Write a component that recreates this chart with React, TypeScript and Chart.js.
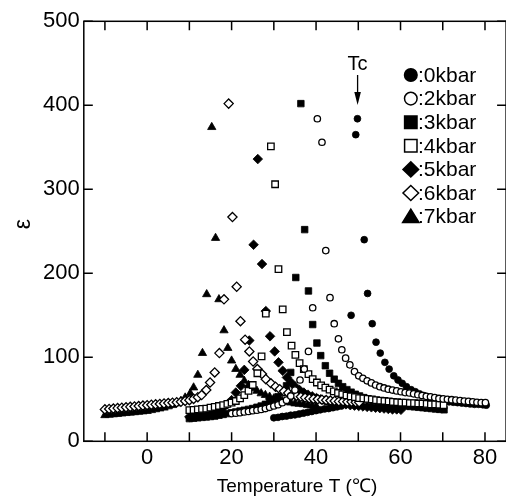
import React, { useEffect, useRef } from 'react';
import { Chart, registerables } from 'chart.js';

Chart.register(...registerables);

// [temperature (℃), ε]
const kbar0: [number, number][] = [
  [30, 28], [31, 28.5], [32, 29.5], [33, 30], [34, 31], [35, 31.5], [36, 32.5], [37, 33.5], [38, 34.5], [39, 35.5],
  [40, 36.5], [41, 37.5], [42, 38.5], [43, 39], [44, 40], [45, 41], [46, 42], [47, 44], [48.3, 150], [49.4, 365],
  [49.8, 384], [51.4, 240], [52.2, 176], [53.3, 140], [54.2, 118], [55.2, 105], [56.3, 94], [57.3, 86], [58.4, 78],
  [59.4, 73], [60.4, 69], [61.4, 65], [62.5, 61.5], [63.5, 59], [64.5, 56.5], [65.5, 54.5], [66.5, 53], [67.5, 51],
  [68.5, 49.5], [69.5, 48], [70.5, 47.5], [71.5, 47], [72.5, 46.5], [73.5, 46], [74.5, 45.5], [75.5, 45], [76.5, 44.5],
  [77.5, 44], [78.5, 44], [79.5, 43.5], [80.3, 43],
];
const kbar2: [number, number][] = [
  [20, 33], [21, 33.5], [22, 34], [23, 35], [24, 35.5], [25, 36.5], [26, 37], [27, 38], [28, 39], [29, 40.5],
  [30, 42], [31, 43.5], [32, 46], [33, 49], [34, 54], [35, 61], [36.2, 73], [37.2, 86], [38.2, 107], [39.2, 159],
  [40.3, 384], [41.4, 356], [42.3, 227], [43.3, 171], [44.3, 140], [45.3, 122], [46.1, 109], [47, 99], [48, 91],
  [49.1, 83], [50.1, 78], [51.1, 75], [52.1, 72], [53.1, 69.5], [54.1, 67], [55.1, 65], [56.1, 63.5], [57.1, 62],
  [58.1, 61], [59.1, 60], [60.1, 59], [61.1, 58], [62.1, 57.5], [63.1, 56.5], [64.1, 55.5], [65.1, 54.5], [66.1, 53.5],
  [67.1, 53], [68.1, 52], [69.1, 51], [70.1, 50.5], [71.1, 50], [72.1, 49.5], [73.1, 49], [74.1, 48.5], [75.1, 48],
  [76.1, 47.5], [77.1, 47], [78.1, 46.5], [79.1, 46], [80.1, 46],
];
const kbar3: [number, number][] = [
  [10, 27], [11, 27.5], [12, 28], [13, 28.5], [14, 29], [15, 29.5], [16, 30], [17, 31], [18, 32], [19, 33],
  [20, 34], [21, 35], [22, 36], [23, 37], [24, 38], [25, 39], [26, 40.5], [27, 42], [28, 44], [29, 46.5],
  [30, 49.5], [31, 53], [32, 58], [33, 66], [34, 82], [35.2, 195], [36.4, 402], [37.3, 252], [38.2, 179], [39.2, 139],
  [40.2, 117], [41.1, 102], [42.2, 90], [43.2, 81], [44.3, 74], [45.3, 69], [46.3, 65], [47.3, 61.5], [48.3, 58.5],
  [49.3, 56], [50.3, 54], [51.3, 52], [52.3, 50.5], [53.3, 49], [54.3, 48], [55.3, 47], [56.3, 46], [57.3, 45],
  [58.3, 44], [59.3, 43.5], [60.3, 43], [61.3, 42], [62.3, 41.5], [63.3, 41], [64.3, 40.5], [65.3, 40], [66.3, 39.5],
  [67.3, 39], [68.3, 38.5], [69.3, 38], [70.3, 37.5],
];
const kbar4: [number, number][] = [
  [10, 37], [11, 37.5], [12, 38], [13, 38.5], [14, 39], [15, 40], [16, 41], [17, 42], [18, 43], [19, 44.5],
  [20, 46], [21, 48], [22, 51], [23, 55], [24, 60], [25, 67], [26.1, 81], [27.1, 101], [28.1, 152], [29.3, 351],
  [30.3, 306], [31.1, 205], [32.1, 157], [33.1, 130], [34.2, 114], [35.1, 103], [36.1, 93], [37.1, 86], [38.2, 80],
  [39.2, 74], [40.2, 70], [41.2, 66.5], [42.2, 64], [43.2, 61.5], [44.2, 59.5], [45.2, 57.5], [46.2, 56], [47.2, 54.5],
  [48.2, 53.5], [49.2, 52.5], [50.2, 51.5], [51.2, 51], [52.2, 50.5], [53.2, 50], [54.2, 49], [55.2, 48.5], [56.2, 48],
  [57.2, 47.5], [58.2, 47], [59.2, 46.5], [60.2, 46], [61.2, 46], [62.2, 45.5], [63.2, 45.5], [64.2, 45], [65.2, 45],
  [66.2, 44.5], [67.2, 44], [68.2, 44], [69.2, 43.5], [70.2, 43],
];
const kbar5: [number, number][] = [
  [10, 29], [11, 29.5], [12, 30], [13, 31], [14, 32], [15, 33.5], [16, 35], [17, 37], [18, 40], [19, 44],
  [20, 49], [21, 58], [22.2, 66], [23, 85], [24.2, 120], [25.2, 234], [26.2, 336], [27.2, 211], [28.1, 155], [29.1, 125],
  [30.2, 107], [31.1, 94], [32.1, 84], [33.1, 76], [34.1, 70], [35.1, 65], [36.1, 61], [37.1, 58], [38.1, 55.5],
  [39.1, 53.5], [40.1, 51.5], [41.1, 50], [42.1, 48.5], [43.1, 47.5], [44.1, 46.5], [45.1, 45.5], [46.1, 44.5],
  [47.1, 44], [48.1, 43], [49.1, 42.5], [50.1, 42], [51.1, 41.5], [52.1, 41], [53.1, 40.5], [54.1, 40], [55.1, 39.5],
  [56.1, 39], [57.1, 38.5], [58.1, 38], [59.1, 38], [60.1, 37.5],
];
const kbar6: [number, number][] = [
  [-10, 38], [-9, 38.5], [-8, 39], [-7, 39.5], [-6, 40], [-5, 40.5], [-4, 41], [-3, 41.5], [-2, 42], [-1, 42.5],
  [0, 43], [1, 43.5], [2, 44], [3, 44.5], [4, 45], [5, 45.5], [6, 46], [7, 46.5], [8, 47], [9, 48],
  [10, 49], [11, 50.5], [12, 52.5], [12.9, 55], [14, 61], [14.9, 70], [16, 82], [17.1, 105], [18.2, 169], [19.3, 402],
  [20.2, 267], [21.2, 184], [22.1, 143], [23.2, 121], [24.2, 107], [25.1, 95], [26.1, 86], [27.2, 80], [28.1, 74],
  [29.3, 69], [30.4, 65], [31.4, 62], [32.4, 59.5], [33.4, 57.5], [34.4, 55.5], [35.4, 54], [36.4, 53], [37.4, 52],
  [38.4, 51], [39.4, 50.5], [40.4, 50], [41.4, 49.5], [42.4, 49], [43.4, 48.5], [44.4, 48], [45.4, 47.5], [46.4, 47.5],
  [47.4, 47], [48.4, 47], [49.4, 46.5], [50.2, 46.5],
];
const kbar7: [number, number][] = [
  [-10, 31], [-9, 31.5], [-8, 32], [-7, 32.5], [-6, 33], [-5, 33.5], [-4, 34], [-3, 34.5], [-2, 35], [-1, 35.5],
  [0, 36], [1, 37], [2, 38], [3, 39], [4, 40], [5, 41.5], [6, 43], [7, 45], [8, 48], [9, 52],
  [10.2, 57], [11, 64], [12, 79], [13.1, 105], [14.1, 175], [15.3, 374], [16.2, 242], [17, 169], [18.2, 132], [19.1, 111],
  [20, 96], [21, 86], [22, 79], [23, 72], [24, 67], [25, 63], [26, 60], [27, 57], [28, 55], [29, 53],
  [30, 51], [31, 49.5], [32, 48], [33, 47], [34, 46], [35, 45], [36, 44.5], [37, 44], [38, 43], [39, 42.5], [40, 42],
];

const seriesLabels = [':0kbar', ':2kbar', ':3kbar', ':4kbar', ':5kbar', ':6kbar', ':7kbar'];
const xTickValues = [-10, 0, 10, 20, 30, 40, 50, 60, 70, 80];
const xLabelValues = [0, 20, 40, 60, 80];
const yTickValues = [0, 100, 200, 300, 400, 500];
const xTitle = 'Temperature T (℃)';
const yTitle = 'ε';
const tcLabel = 'Tc';
const tcValue = 50;

type Marker = { style: string; filled: boolean; r: number };
const markers: Marker[] = [
  { style: 'circle', filled: true, r: 3.4 },
  { style: 'circle', filled: false, r: 3.2 },
  { style: 'rect', filled: true, r: 4.6 },
  { style: 'rect', filled: false, r: 4.6 },
  { style: 'rectRot', filled: true, r: 4.8 },
  { style: 'rectRot', filled: false, r: 4.6 },
  { style: 'triangle', filled: true, r: 4.8 },
];
const drawOrder = [4, 1, 5, 2, 6, 3, 7];

function legendMarker(ctx: CanvasRenderingContext2D, style: string, filled: boolean, x: number, y: number) {
  ctx.beginPath();
  if (style === 'circle') {
    ctx.arc(x, y, 6.3, 0, Math.PI * 2);
  } else if (style === 'rect') {
    ctx.rect(x - 6.2, y - 6.2, 12.4, 12.4);
  } else if (style === 'rectRot') {
    ctx.moveTo(x, y - 7.5);
    ctx.lineTo(x + 7.8, y);
    ctx.lineTo(x, y + 7.5);
    ctx.lineTo(x - 7.8, y);
    ctx.closePath();
  } else {
    ctx.moveTo(x, y - 7.5);
    ctx.lineTo(x + 8.2, y + 6);
    ctx.lineTo(x - 8.2, y + 6);
    ctx.closePath();
  }
  ctx.fillStyle = filled ? '#000' : '#fff';
  ctx.fill();
  ctx.lineWidth = 1.5;
  ctx.strokeStyle = '#000';
  ctx.stroke();
}

const decorPlugin = {
  id: 'decor',
  afterDraw(chart: any) {
    const { ctx, chartArea: a, scales } = chart;
    const xs = scales.x;
    const ys = scales.y;
    ctx.save();
    ctx.strokeStyle = '#000';
    ctx.lineWidth = 1.5;
    ctx.strokeRect(a.left, a.top, a.right - a.left, a.bottom - a.top);
    const tl = 9;
    ctx.beginPath();
    for (const v of xTickValues) {
      const px = xs.getPixelForValue(v);
      ctx.moveTo(px, a.bottom);
      ctx.lineTo(px, a.bottom - tl);
      ctx.moveTo(px, a.top);
      ctx.lineTo(px, a.top + tl);
    }
    for (const v of yTickValues) {
      const py = ys.getPixelForValue(v);
      ctx.moveTo(a.left, py);
      ctx.lineTo(a.left + tl, py);
      ctx.moveTo(a.right, py);
      ctx.lineTo(a.right - tl, py);
    }
    ctx.stroke();

    // legend
    ctx.font = '21px "Liberation Sans", Arial, sans-serif';
    ctx.textBaseline = 'middle';
    ctx.textAlign = 'left';
    seriesLabels.forEach((lab, i) => {
      const y = 75 + i * 23.6;
      const m = markers[i];
      legendMarker(ctx, m.style, m.filled, 410.8, y);
      ctx.fillStyle = '#000';
      ctx.fillText(lab, 418, y + 1);
    });

    // Tc marker
    const tx = xs.getPixelForValue(tcValue) - 0.7;
    ctx.font = '20px "Liberation Sans", Arial, sans-serif';
    ctx.textAlign = 'center';
    ctx.textBaseline = 'alphabetic';
    ctx.fillStyle = '#000';
    ctx.fillText(tcLabel, tx, 69.5);
    ctx.lineWidth = 1.3;
    ctx.beginPath();
    ctx.moveTo(tx, 75);
    ctx.lineTo(tx, 95);
    ctx.stroke();
    ctx.beginPath();
    ctx.moveTo(tx - 3.3, 92);
    ctx.lineTo(tx + 3.3, 92);
    ctx.lineTo(tx, 105);
    ctx.closePath();
    ctx.fill();

    // axis titles
    ctx.font = '19px "Liberation Sans", Arial, sans-serif';
    ctx.textAlign = 'center';
    ctx.textBaseline = 'alphabetic';
    ctx.fillText(xTitle, 297, 492);

    ctx.save();
    ctx.translate(24, 224);
    ctx.rotate(-Math.PI / 2);
    ctx.font = '23px "Liberation Sans", Arial, sans-serif';
    ctx.textAlign = 'center';
    ctx.textBaseline = 'middle';
    ctx.fillText(yTitle, 0, 0);
    ctx.restore();

    ctx.restore();
  },
};

export default function App() {
  const ref = useRef<HTMLCanvasElement>(null);
  useEffect(() => {
    document.body.style.margin = '0';
    document.body.style.overflow = 'hidden';
    const canvas = ref.current!;
    const all = [kbar0, kbar2, kbar3, kbar4, kbar5, kbar6, kbar7];
    const chart = new Chart(canvas, {
      type: 'scatter',
      data: {
        datasets: all.map((s, i) => ({
          label: seriesLabels[i],
          data: s.map(([x, y]) => ({ x, y })),
          pointStyle: markers[i].style as any,
          pointRadius: markers[i].r,
          pointBackgroundColor: markers[i].filled ? '#000' : '#fff',
          pointBorderColor: '#000',
          pointBorderWidth: markers[i].filled ? 0.8 : 1.3,
          showLine: false,
          order: drawOrder[i],
        })),
      },
      options: {
        responsive: false,
        animation: false,
        devicePixelRatio: 1,
        layout: { padding: { top: 21.3, right: 3.8, left: 0, bottom: 0 } },
        plugins: { legend: { display: false }, tooltip: { enabled: false } },
        scales: {
          x: {
            type: 'linear',
            min: -15,
            max: 85,
            grid: { display: false, drawTicks: false },
            border: { display: false },
            afterBuildTicks: (s: any) => {
              s.ticks = xTickValues.map((v) => ({ value: v }));
            },
            afterFit: (s: any) => {
              s.height = 55.7;
            },
            ticks: {
              autoSkip: false,
              maxRotation: 0,
              padding: 3,
              color: '#000',
              font: { family: '"Liberation Sans", Arial, sans-serif', size: 22 },
              callback: (v: any) => (xLabelValues.includes(Number(v)) ? String(v) : ''),
            },
          },
          y: {
            type: 'linear',
            min: 0,
            max: 500,
            grid: { display: false, drawTicks: false },
            border: { display: false },
            afterBuildTicks: (s: any) => {
              s.ticks = yTickValues.map((v) => ({ value: v }));
            },
            afterFit: (s: any) => {
              s.width = 83.8;
            },
            ticks: {
              autoSkip: false,
              padding: 4,
              color: '#000',
              font: { family: '"Liberation Sans", Arial, sans-serif', size: 22 },
              callback: (v: any) => String(v),
            },
          },
        },
      },
      plugins: [decorPlugin],
    });
    return () => chart.destroy();
  }, []);
  return (
    <div style={{ width: 512, height: 497 }}>
      <canvas ref={ref} width={512} height={497} style={{ display: 'block', width: 512, height: 497 }} />
    </div>
  );
}
